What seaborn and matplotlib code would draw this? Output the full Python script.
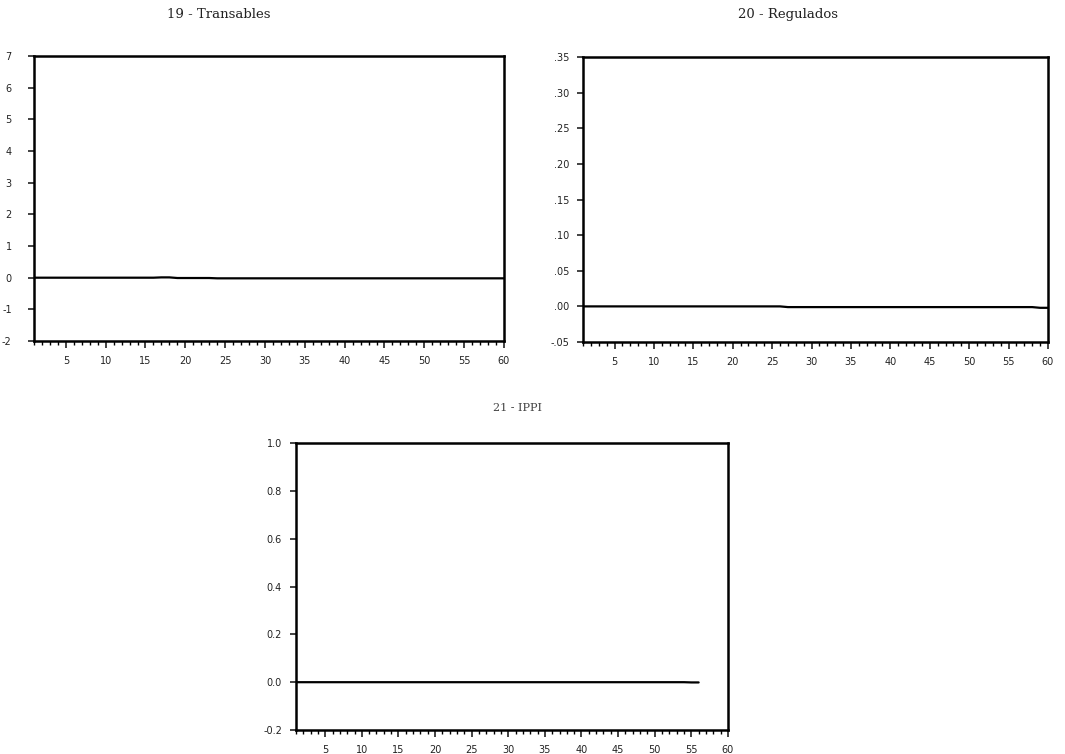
import numpy as np
import pandas as pd
import matplotlib
matplotlib.use("Agg")
import matplotlib.pyplot as plt
import seaborn as sns
from matplotlib.ticker import MultipleLocator, FixedLocator

# ---------------- data ----------------
titles = ["19 - Transables", "20 - Regulados", "21 - IPPI"]

periods_a = list(range(1, 61))
periods_b = list(range(1, 61))
periods_c = list(range(1, 57))

resp_transables = [0.00, 0.00, 0.00, 0.00, 0.00, 0.00, 0.00, 0.00, 0.00, 0.00,
                   0.00, 0.00, 0.00, 0.00, 0.00, 0.00, 0.01, 0.01, -0.01, -0.01,
                   -0.01, -0.01, -0.01, -0.02, -0.02, -0.02, -0.02, -0.02, -0.02, -0.02,
                   -0.02, -0.02, -0.02, -0.02, -0.02, -0.02, -0.02, -0.02, -0.02, -0.02,
                   -0.02, -0.02, -0.02, -0.02, -0.02, -0.02, -0.02, -0.02, -0.02, -0.02,
                   -0.02, -0.02, -0.02, -0.02, -0.02, -0.02, -0.02, -0.02, -0.02, -0.02]

resp_regulados = [0.000, 0.000, 0.000, 0.000, 0.000, 0.000, 0.000, 0.000, 0.000, 0.000,
                  0.000, 0.000, 0.000, 0.000, 0.000, 0.000, 0.000, 0.000, 0.000, 0.000,
                  0.000, 0.000, 0.000, 0.000, 0.000, 0.000, -0.001, -0.001, -0.001, -0.001,
                  -0.001, -0.001, -0.001, -0.001, -0.001, -0.001, -0.001, -0.001, -0.001, -0.001,
                  -0.001, -0.001, -0.001, -0.001, -0.001, -0.001, -0.001, -0.001, -0.001, -0.001,
                  -0.001, -0.001, -0.001, -0.001, -0.001, -0.001, -0.001, -0.001, -0.002, -0.002]

resp_ippi = [0.000, 0.000, 0.000, 0.000, 0.000, 0.000, 0.000, 0.000, 0.000, 0.000,
             0.000, 0.000, 0.000, 0.000, 0.000, 0.000, 0.000, 0.000, 0.000, 0.000,
             0.000, 0.000, 0.000, 0.000, 0.000, 0.000, 0.000, 0.000, 0.000, 0.000,
             0.000, 0.000, 0.000, 0.000, 0.000, 0.000, 0.000, 0.000, 0.000, 0.000,
             0.000, 0.000, 0.000, 0.000, 0.000, 0.000, 0.000, 0.000, 0.000, 0.000,
             0.000, 0.000, 0.000, 0.000, -0.001, -0.001]

yticks_a = [-2, -1, 0, 1, 2, 3, 4, 5, 6, 7]
yticklabels_a = ["-2", "-1", "0", "1", "2", "3", "4", "5", "6", "7"]
yticks_b = [-0.05, 0.00, 0.05, 0.10, 0.15, 0.20, 0.25, 0.30, 0.35]
yticklabels_b = ["-.05", ".00", ".05", ".10", ".15", ".20", ".25", ".30", ".35"]
yticks_c = [-0.2, 0.0, 0.2, 0.4, 0.6, 0.8, 1.0]
yticklabels_c = ["-0.2", "0.0", "0.2", "0.4", "0.6", "0.8", "1.0"]
xticks = [5, 10, 15, 20, 25, 30, 35, 40, 45, 50, 55, 60]
xticklabels = ["5", "10", "15", "20", "25", "30", "35", "40", "45", "50", "55", "60"]

# ---------------- figure ----------------
sns.set_theme(style="white")
plt.rcParams["font.family"] = ["DejaVu Sans"]

fig = plt.figure(figsize=(10.65, 7.54), dpi=100)
fig.patch.set_facecolor("white")

ax1 = fig.add_axes([0.0319, 0.5477, 0.4413, 0.378])
ax2 = fig.add_axes([0.5474, 0.5464, 0.4366, 0.378])
ax3 = fig.add_axes([0.2779, 0.0318, 0.4056, 0.3806])

panels = [
    (ax1, periods_a, resp_transables, yticks_a, yticklabels_a, (-2, 7), 12),
    (ax2, periods_b, resp_regulados, yticks_b, yticklabels_b, (-0.05, 0.35), 6),
    (ax3, periods_c, resp_ippi, yticks_c, yticklabels_c, (-0.2, 1.0), 6),
]

for ax, px, py, yt, ytl, ylim, ypad in panels:
    df = pd.DataFrame({"periodo": px, "respuesta": py})
    sns.lineplot(data=df, x="periodo", y="respuesta", ax=ax,
                 color="black", linewidth=1.6)
    ax.set_xlim(1, 60)
    ax.set_ylim(*ylim)
    ax.set_xlabel("")
    ax.set_ylabel("")
    ax.set_facecolor("white")
    for sp in ax.spines.values():
        sp.set_visible(True)
        sp.set_color("black")
        sp.set_linewidth(1.8)
    ax.xaxis.set_major_locator(FixedLocator(xticks))
    ax.set_xticklabels(xticklabels)
    ax.xaxis.set_minor_locator(MultipleLocator(1))
    ax.set_yticks(yt)
    ax.set_yticklabels(ytl)
    ax.tick_params(axis="x", which="major", direction="out", length=5, width=1.2,
                   colors="#222222", labelsize=7, pad=6, bottom=True)
    ax.tick_params(axis="x", which="minor", direction="out", length=3, width=1.0,
                   colors="black", bottom=True)
    ax.tick_params(axis="y", which="major", direction="out", length=4, width=1.2,
                   colors="#222222", labelsize=7, pad=ypad, left=True)
    ax.grid(False)
    leg = ax.get_legend()
    if leg is not None:
        leg.remove()

fig.text(0.205, 0.981, titles[0], ha="center", va="center", fontsize=9.5,
         family="DejaVu Serif", color="#222222")
fig.text(0.740, 0.981, titles[1], ha="center", va="center", fontsize=9.5,
         family="DejaVu Serif", color="#222222")
fig.text(0.486, 0.459, titles[2], ha="center", va="center", fontsize=8,
         family="DejaVu Serif", color="#444444")

fig.savefig("out.png", dpi=100, facecolor="white")
